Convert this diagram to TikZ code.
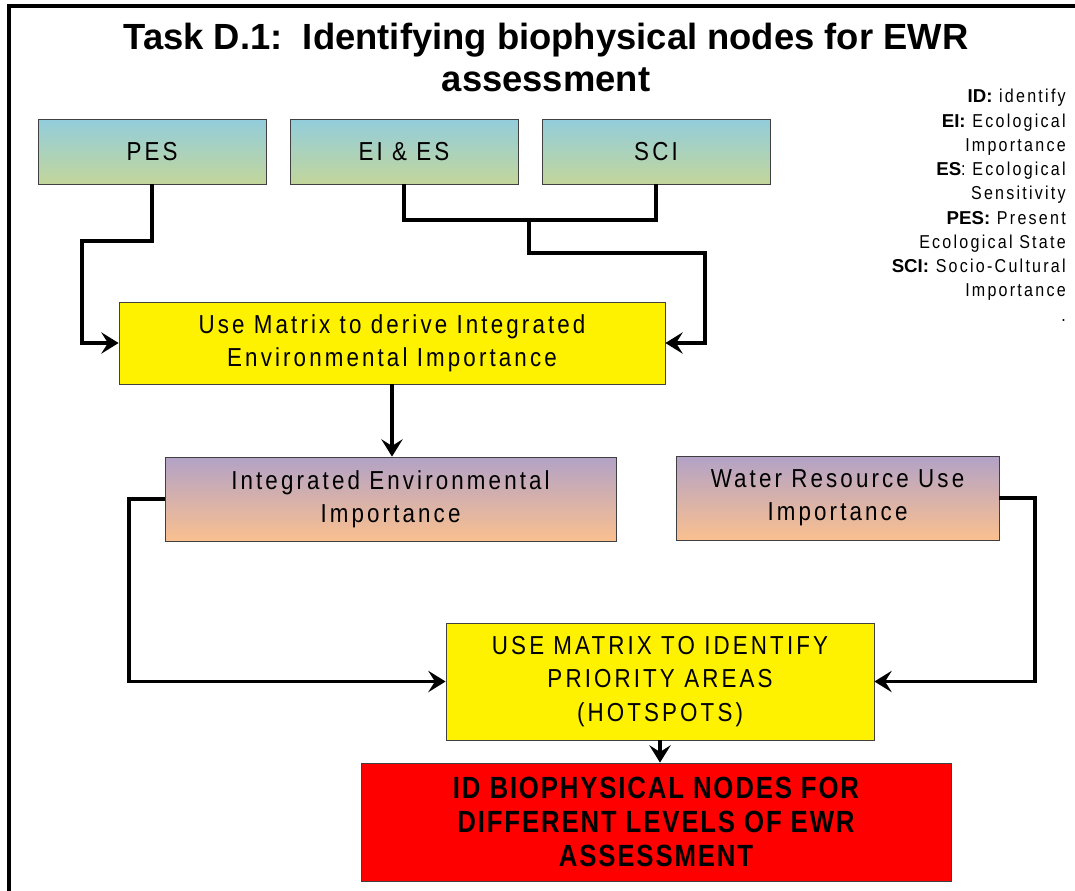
\documentclass[tikz,border=0pt]{standalone}
\usepackage{fontspec}
\usetikzlibrary{arrows.meta}
\setmainfont{Liberation Sans}
\newfontfamily\boxfont[FakeStretch=0.86,LetterSpace=12]{Liberation Sans}
\newfontfamily\condfont[FakeStretch=0.84,LetterSpace=6]{Liberation Sans}
\definecolor{skyblue}{RGB}{146,205,220}
\definecolor{sagegreen}{RGB}{195,214,155}
\definecolor{lavender}{RGB}{178,162,199}
\definecolor{peach}{RGB}{250,192,143}
\newcommand{\lab}[1]{{\normalfont\bfseries #1}}
\tikzset{
  box/.style={draw=black!75, line width=0.6pt, inner sep=0pt, align=center,
    font=\boxfont\fontsize{19.5}{25}\selectfont},
  topbox/.style={box, top color=skyblue, bottom color=sagegreen,
    minimum width=171pt, minimum height=48.75pt},
  midbox/.style={box, top color=lavender, bottom color=peach, minimum height=63pt},
  yellowbox/.style={box, fill=yellow},
  redbox/.style={box, fill=red, font=\condfont\bfseries\fontsize{23}{25.5}\selectfont},
  link/.style={line width=2.8pt, -{Stealth[length=13pt,width=16pt,inset=5pt]}},
}
\begin{document}
\begin{tikzpicture}[x=0.75pt,y=-0.75pt]
  \useasboundingbox (0,0) rectangle (1075,890);
  \draw[line width=2.6pt] (9,895) -- (9,6) -- (1080,6);
  \node[anchor=north, inner sep=0pt, align=center, font=\bfseries\fontsize{27.3}{31.5}\selectfont]
    (title) at (546,23) {Task D.1:\ \ Identifying biophysical nodes for EWR\\assessment};
  \node[anchor=north east, inner sep=0pt, align=right, font=\boxfont\fontsize{14}{18.2}\selectfont]
    (legend) at (1066,89) {\lab{ID:} identify\\ \lab{EI:} Ecological\\ Importance\\
    \lab{ES}: Ecological\\ Sensitivity\\ \lab{PES:} Present\\ Ecological State\\
    \lab{SCI:} Socio-Cultural\\ Importance\\ .};
  \node[topbox] (pes) at (152,151.5) {PES};
  \node[topbox] (eies) at (404,151.5) {EI \& ES};
  \node[topbox] (sci) at (656,151.5) {SCI};
  \node[yellowbox, minimum width=409.5pt, minimum height=61.5pt] (derive) at (392,343)
    {Use Matrix to derive Integrated\\Environmental Importance};
  \node[midbox, minimum width=338.25pt] (iei) at (390.5,499)
    {Integrated Environmental\\Importance};
  \node[midbox, minimum width=242.25pt] (wrui) at (837.5,498)
    {Water Resource Use\\Importance};
  \node[yellowbox, minimum width=321pt, minimum height=87.75pt] (hotspots) at (660,681.5)
    {USE MATRIX TO IDENTIFY\\PRIORITY AREAS\\(HOTSPOTS)};
  \node[redbox, minimum width=442.5pt, minimum height=88.5pt] (nodes) at (656,822)
    {ID BIOPHYSICAL NODES FOR\\DIFFERENT LEVELS OF EWR\\ASSESSMENT};
  \coordinate (b1) at (82,241);
  \coordinate (j1) at (529,220);
  \coordinate (b2) at (705,253);
  \coordinate (b3) at (129,600);
  \coordinate (b4) at (1035,600);
  \draw[link] (pes.south) |- (b1) |- (derive.west);
  \draw[line width=2.8pt] (eies.south) |- (j1) -| (sci.south);
  \draw[link] (j1) |- (b2) |- (derive.east);
  \draw[link] (derive.south) -- (derive.south |- iei.north);
  \draw[link] (iei.west) -| (b3) |- (hotspots.west);
  \draw[link] (wrui.east) -| (b4) |- (hotspots.east);
  \draw[link] (hotspots.south) -- (hotspots.south |- nodes.north);
\end{tikzpicture}
\end{document}
